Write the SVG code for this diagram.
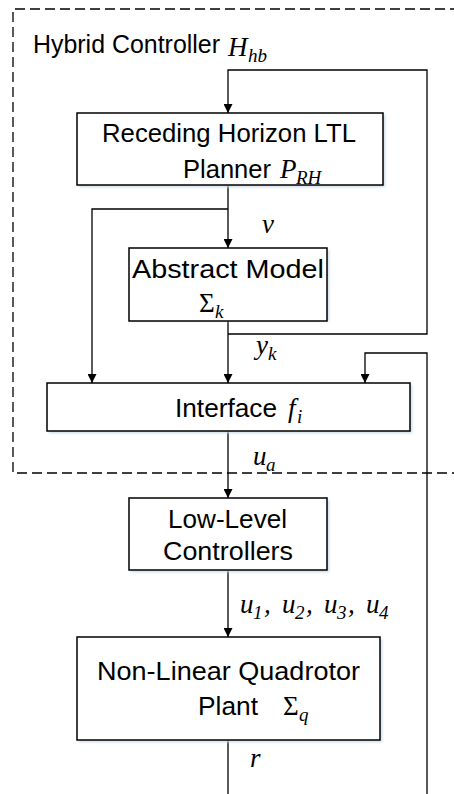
<svg xmlns="http://www.w3.org/2000/svg" width="454" height="794" viewBox="0 0 454 794">
  <defs>
    <marker id="arrow" viewBox="0 0 10 10" refX="10" refY="5" markerWidth="10" markerHeight="9" orient="auto" markerUnits="userSpaceOnUse">
      <path d="M0,0 L10,5 L0,10 z" fill="#000"/>
    </marker>
    <filter id="soft" x="-10%" y="-10%" width="130%" height="140%">
      <feGaussianBlur stdDeviation="1.5"/>
    </filter>
    <style>
      .box { fill: #fff; stroke: #000; stroke-width: 1.5; }
      .shadow { fill: #c9d6e6; filter: url(#soft); }
      .wire { fill: none; stroke: #000; stroke-width: 1.3; }
      .frame { fill: none; stroke: #000; stroke-width: 1.3; stroke-dasharray: 10 5; }
      .txt { font-family: "Liberation Sans", Arial, sans-serif; font-size: 25px; fill: #000; }
      .math { font-family: "Liberation Serif", "Times New Roman", serif; font-style: italic; font-size: 27px; fill: #000; }
      .up { font-style: normal; }
      .sub { font-size: 19px; }
    </style>
  </defs>

  <!-- hybrid controller boundary -->
  <g id="hybrid-controller">
    <path class="frame" d="M460,9 H13 V473 H460"/>
    <text class="txt" x="33" y="53" textLength="187" lengthAdjust="spacingAndGlyphs">Hybrid Controller</text>
    <text class="math" x="228" y="56">H</text>
    <text class="math sub" x="248" y="62">hb</text>
  </g>

  <!-- connectors -->
  <g id="connectors">
    <path class="wire" d="M228,185 V248" marker-end="url(#arrow)"/>
    <path class="wire" d="M228,209 H92 V383" marker-end="url(#arrow)"/>
    <path class="wire" d="M228,321 V383" marker-end="url(#arrow)"/>
    <path class="wire" d="M228,334 H427 V70 H228 V113" marker-end="url(#arrow)"/>
    <path class="wire" d="M427,794 V353 H365 V383" marker-end="url(#arrow)"/>
    <path class="wire" d="M228,431 V498" marker-end="url(#arrow)"/>
    <path class="wire" d="M228,570 V637" marker-end="url(#arrow)"/>
    <path class="wire" d="M228,740 V794"/>
    <text class="math" x="262" y="233">v</text>
    <text class="math" x="256" y="354">y</text>
    <text class="math sub" x="268" y="360">k</text>
    <text class="math" x="253" y="465">u</text>
    <text class="math sub" x="266" y="471">a</text>
    <text class="math" x="240" y="613">u</text>
    <text class="math sub" x="253" y="619">1</text>
    <text class="math" x="264" y="613">,</text>
    <text class="math" x="282" y="613">u</text>
    <text class="math sub" x="295" y="619">2</text>
    <text class="math" x="306" y="613">,</text>
    <text class="math" x="324" y="613">u</text>
    <text class="math sub" x="337" y="619">3</text>
    <text class="math" x="348" y="613">,</text>
    <text class="math" x="366" y="613">u</text>
    <text class="math sub" x="379" y="619">4</text>
    <text class="math" x="250" y="767">r</text>
  </g>

  <g id="planner">
    <rect class="shadow" x="79" y="115" width="306" height="72"/>
    <rect class="box" x="77" y="113" width="306" height="72"/>
    <text class="txt" x="102" y="142" textLength="254" lengthAdjust="spacingAndGlyphs">Receding Horizon LTL</text>
    <text class="txt" x="183" y="178" textLength="88" lengthAdjust="spacingAndGlyphs">Planner</text>
    <text class="math" x="280" y="178">P</text>
    <text class="math sub" x="296" y="184">RH</text>
  </g>

  <g id="abstract-model">
    <rect class="shadow" x="131" y="250" width="198" height="71"/>
    <rect class="box" x="129" y="248" width="198" height="73"/>
    <text class="txt" x="132" y="278" textLength="192" lengthAdjust="spacingAndGlyphs">Abstract Model</text>
    <text class="math up" x="199" y="312">Σ</text>
    <text class="math sub" x="215" y="318">k</text>
  </g>

  <g id="interface">
    <rect class="shadow" x="49" y="385" width="363" height="48"/>
    <rect class="box" x="47" y="383" width="363" height="48"/>
    <text class="txt" x="175" y="417" textLength="102" lengthAdjust="spacingAndGlyphs">Interface</text>
    <text class="math" x="288" y="417">f</text>
    <text class="math sub" x="297" y="423">i</text>
  </g>

  <g id="low-level-controllers">
    <rect class="shadow" x="131" y="500" width="198" height="72"/>
    <rect class="box" x="129" y="498" width="198" height="72"/>
    <text class="txt" x="168" y="528" textLength="119" lengthAdjust="spacingAndGlyphs">Low-Level</text>
    <text class="txt" x="163" y="560" textLength="130" lengthAdjust="spacingAndGlyphs">Controllers</text>
  </g>

  <g id="quadrotor-plant">
    <rect class="shadow" x="79" y="639" width="303" height="103"/>
    <rect class="box" x="77" y="637" width="303" height="103"/>
    <text class="txt" x="97" y="680" textLength="263" lengthAdjust="spacingAndGlyphs">Non-Linear Quadrotor</text>
    <text class="txt" x="198" y="715" textLength="60" lengthAdjust="spacingAndGlyphs">Plant</text>
    <text class="math up" x="283" y="715">Σ</text>
    <text class="math sub" x="299" y="721">q</text>
  </g>
</svg>
